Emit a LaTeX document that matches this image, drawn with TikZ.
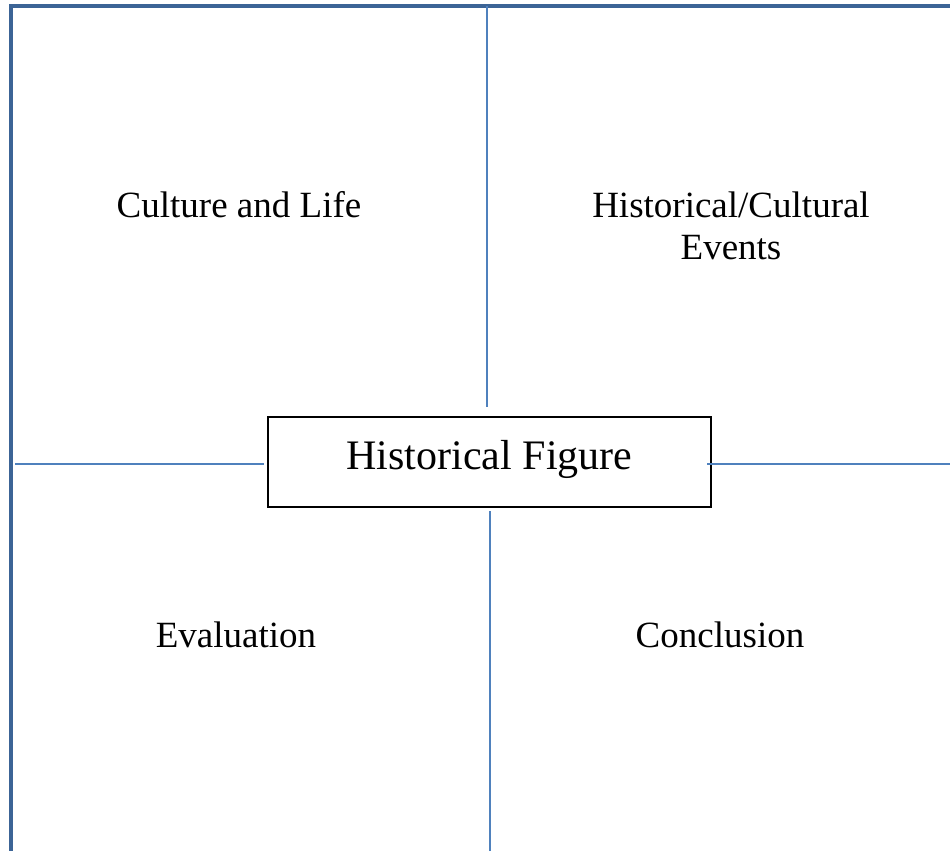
\documentclass[tikz,border=0pt]{standalone}
\usepackage{fontspec}
\setmainfont{Liberation Serif}
\usetikzlibrary{positioning}
\definecolor{frameblue}{HTML}{3C6496}
\definecolor{lineblue}{HTML}{4F81BD}

\begin{document}
\begin{tikzpicture}[x=1pt, y=-1pt,
    frame/.style={draw=frameblue, line width=4pt},
    divider/.style={draw=lineblue, line width=2pt},
    quadtext/.style={font=\fontsize{37}{42.5}\selectfont, align=center}]
    \useasboundingbox (0,0) rectangle (950,851);

    % centre box
    \node[draw, line width=2pt, minimum width=443pt, minimum height=90pt, inner sep=0pt,
          text height=28.5pt, text depth=14pt,
          font=\fontsize{42}{48}\selectfont] (fig) at (489.5,462) {Historical Figure};

    % quadrant texts
    \node[quadtext] (culture) at (239,205) {Culture and Life};
    \node[quadtext] (events) at (731,226) {Historical/Cultural\\Events};
    \node[quadtext] (evaluation) at (236,635) {Evaluation};
    \node[quadtext] (conclusion) at (720,635) {Conclusion};

    % outer frame
    \coordinate (tl) at (11,6);
    \coordinate (tr) at (950,6);
    \coordinate (bl) at (11,851);
    \draw[frame] (tr) -- (tl) -- (bl);

    % dividers
    \coordinate (topmid) at (486.5,6);
    \coordinate (botmid) at (489.5,851);
    \coordinate (midleft) at (15,463.5);
    \coordinate (midright) at (950,463.5);
    \draw[divider, shorten >=9pt] (topmid) -- (fig.north -| topmid);
    \draw[divider, shorten >=3pt] (botmid) -- (fig.south -| botmid);
    \draw[divider, shorten >=3pt] (midleft) -- (fig.west |- midleft);
    \draw[divider, shorten >=-5pt] (midright) -- (fig.east |- midright);
\end{tikzpicture}
\end{document}
